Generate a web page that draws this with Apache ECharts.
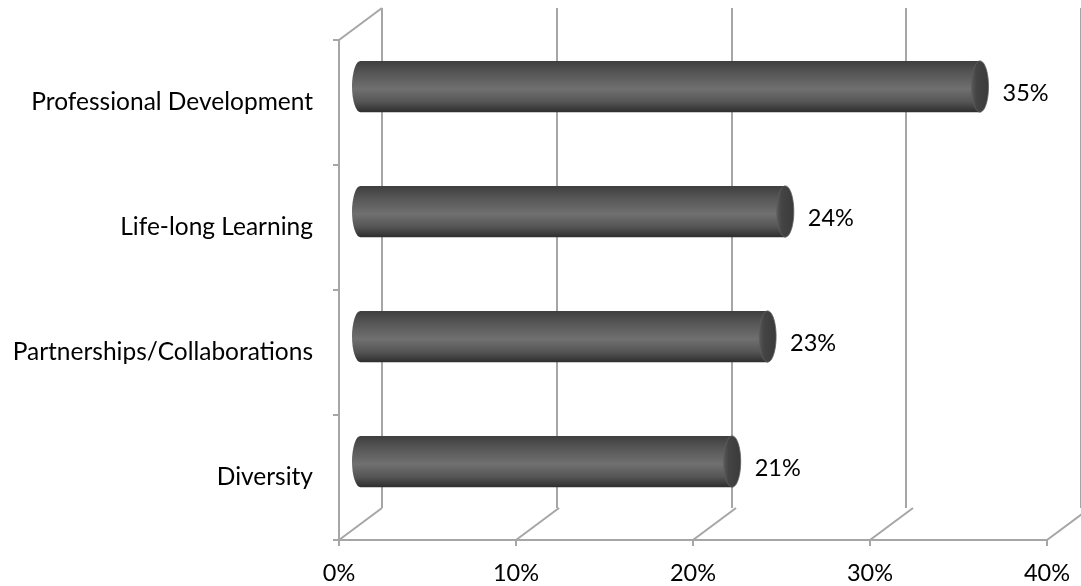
<!DOCTYPE html>
<html><head><meta charset="utf-8">
<script src="https://cdn.jsdelivr.net/npm/echarts@6/dist/echarts.min.js"></script>
<style>html,body{margin:0;padding:0;background:#fff}#c{width:1081px;height:586px}</style>
</head><body><div id="c"></div>
<script>
const categories = ['Professional Development', 'Life-long Learning', 'Partnerships/Collaborations', 'Diversity'];
const values = [0.35, 0.24, 0.23, 0.21];
const xTicks = [0, 0.1, 0.2, 0.3, 0.4];

const DX = 43, DY = 32;          // depth offset of back wall
const GRID = '#a6a6a6';
const FONT = 'Lato';

const chart = echarts.init(document.getElementById('c'));

const bodyGrad = new echarts.graphic.LinearGradient(0, 0, 0, 1, [
  {offset: 0, color: '#3e3e3e'},
  {offset: 0.25, color: '#575757'},
  {offset: 0.55, color: '#707070'},
  {offset: 0.8, color: '#555555'},
  {offset: 1, color: '#2e2e2e'}
]);
const capGrad = new echarts.graphic.LinearGradient(0, 0, 1, 0, [
  {offset: 0, color: '#5a5a5a'},
  {offset: 0.3, color: '#444444'},
  {offset: 1, color: '#3a3a3a'}
]);

function renderBar(params, api) {
  const v = api.value(0), idx = api.value(1);
  const p0 = api.coord([0, idx]);
  const p1 = api.coord([v, idx]);
  const band = api.size([0, 1])[1];
  const h = band * 0.41;
  const rx = 8.5;
  const x0 = p0[0] + DX / 2, x1 = p1[0] + DX / 2;
  const cy = p0[1] - DY / 2;
  const top = cy - h / 2, bot = cy + h / 2;
  const path = 'M' + x0 + ' ' + top + ' L' + x1 + ' ' + top + ' L' + x1 + ' ' + bot +
    ' L' + x0 + ' ' + bot + ' A' + rx + ' ' + (h / 2) + ' 0 0 1 ' + x0 + ' ' + top + ' Z';
  return {
    type: 'group',
    children: [
      {type: 'path', shape: {pathData: path}, style: {fill: bodyGrad}},
      {type: 'ellipse', shape: {cx: x1, cy: cy, rx: rx, ry: h / 2}, style: {fill: capGrad, stroke: '#5e5e5e', lineWidth: 0.8}},
      {type: 'text', x: x1 + rx + 14, y: cy + 7,
       style: {text: Math.round(v * 100) + '%', fill: '#000', font: '23.5px ' + FONT, textAlign: 'left', textVerticalAlign: 'middle'}}
    ]
  };
}

function renderFrame(params, api) {
  const v = api.value(0);
  const cs = params.coordSys;
  const x = api.coord([v, 0])[0];
  const bottom = cs.y + cs.height;
  const children = [
    {type: 'line', shape: {x1: x, y1: bottom, x2: x + DX, y2: bottom - DY}, style: {stroke: GRID, lineWidth: 2}}
  ];
  if (v === 0) {
    children.push({type: 'line', shape: {x1: x, y1: cs.y, x2: x + DX, y2: cs.y - DY}, style: {stroke: GRID, lineWidth: 2}});
  }
  return {type: 'group', children: children};
}

chart.setOption({
  animation: false,
  grid: [
    {left: 339, right: 34, top: 40, bottom: 46},
    {left: 339 + DX, top: 40 - DY, width: 708, height: 500}
  ],
  xAxis: [
    {type: 'value', gridIndex: 0, min: 0, max: 0.4, interval: 0.1,
     axisLine: {show: true, lineStyle: {color: GRID, width: 2}},
     axisTick: {show: true, length: 6, lineStyle: {color: GRID, width: 2}},
     splitLine: {show: false},
     axisLabel: {formatter: v => Math.round(v * 100) + '%', color: '#000', fontFamily: FONT, fontSize: 23.5, margin: 21}},
    {type: 'value', gridIndex: 1, min: 0, max: 0.4, interval: 0.1,
     axisLine: {show: false}, axisTick: {show: false}, axisLabel: {show: false},
     splitLine: {show: true, lineStyle: {color: GRID, width: 2}}}
  ],
  yAxis: [
    {type: 'category', gridIndex: 0, data: categories, inverse: true,
     axisLine: {show: true, lineStyle: {color: GRID, width: 2}},
     axisTick: {show: true, length: 6, lineStyle: {color: GRID, width: 2}},
     axisLabel: {color: '#000', fontFamily: FONT, fontSize: 24.5, margin: 26}},
    {type: 'value', gridIndex: 1, show: false, splitLine: {show: false}}
  ],
  series: [
    {type: 'custom', xAxisIndex: 0, yAxisIndex: 0, z: 1, silent: true,
     data: xTicks.map(v => [v]), renderItem: renderFrame},
    {type: 'custom', xAxisIndex: 0, yAxisIndex: 0, z: 5,
     data: values.map((v, i) => [v, i]), encode: {x: 0, y: 1}, renderItem: renderBar}
  ]
});
</script>
</body></html>
